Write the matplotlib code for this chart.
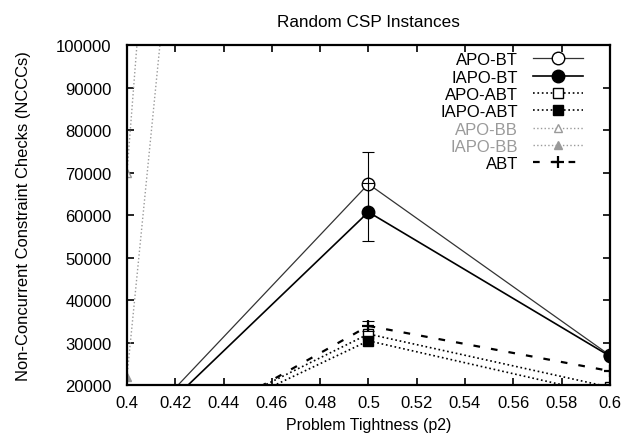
import matplotlib
matplotlib.use('Agg')
import matplotlib.pyplot as plt
import numpy as np

plt.rcParams['font.family'] = ['Liberation Sans', 'DejaVu Sans']

# data
p2 = [0.4, 0.5, 0.6]
apo_bt = [7300, 67300, 27000]
iapo_bt = [6200, 60700, 26800]
apo_abt = [4000, 32000, 19500]
iapo_abt = [3500, 30400, 17500]
apo_bb = [70000, 800000, 900000]
iapo_bb = [22000, 594000, 700000]
abt = [2000, 33900, 23300]

apo_bt_err = [0, 7500, 0]
iapo_bt_err = [0, 6800, 0]
abt_err = [0, 1200, 0]

xticks = [0.4, 0.42, 0.44, 0.46, 0.48, 0.5, 0.52, 0.54, 0.56, 0.58, 0.6]
xticklabels = ['0.4', '0.42', '0.44', '0.46', '0.48', '0.5', '0.52', '0.54', '0.56', '0.58', '0.6']
yticks = [20000, 30000, 40000, 50000, 60000, 70000, 80000, 90000, 100000]

fig = plt.figure(figsize=(6.21, 4.39), dpi=100)
ax = fig.add_axes([0.2045, 0.1207, 0.7775, 0.7745])

gray = '#9a9a9a'
ax.plot(p2, apo_bt, '-', color='#333333', lw=0.9, marker='o', ms=9,
        mfc='white', mec='black', mew=1.0, label='APO-BT')
ax.plot(p2, iapo_bt, '-', color='black', lw=1.2, marker='o', ms=9,
        mfc='black', mec='black', label='IAPO-BT')
ax.plot(p2, apo_abt, ':', color='black', lw=1.2, marker='s', ms=7.5,
        mfc='white', mec='black', mew=1.0, label='APO-ABT')
ax.plot(p2, iapo_abt, ':', color='black', lw=1.2, marker='s', ms=7.5,
        mfc='black', mec='black', label='IAPO-ABT')
ax.plot(p2, apo_bb, ':', color=gray, lw=1.0, marker='^', ms=6,
        mfc='white', mec=gray, label='APO-BB')
ax.plot(p2, iapo_bb, ':', color=gray, lw=1.0, marker='^', ms=6,
        mfc=gray, mec=gray, label='IAPO-BB')
ax.plot(p2, abt, '--', color='black', lw=1.6, dashes=(3, 5), marker='+', ms=9,
        mew=1.6, label='ABT')

# error bars only where measured
for vals, err in [(apo_bt, apo_bt_err), (iapo_bt, iapo_bt_err), (abt, abt_err)]:
    idx = [i for i, e in enumerate(err) if e > 0]
    ax.errorbar([p2[i] for i in idx], [vals[i] for i in idx],
                yerr=[err[i] for i in idx], fmt='none', ecolor='black',
                elinewidth=0.8, capsize=4, capthick=0.8, linestyle=':')

ax.set_xlim(0.4, 0.6)
ax.set_ylim(20000, 100000)
ax.set_xticks(xticks)
ax.set_xticklabels(xticklabels)
ax.set_yticks(yticks)
ax.tick_params(axis='both', direction='in', length=5, width=1.2, top=True, right=True,
               labelsize=12)
ax.tick_params(axis='y', pad=11)
ax.tick_params(axis='x', pad=7)
for s in ax.spines.values():
    s.set_linewidth(1.6)

ax.set_title('Random CSP Instances', fontsize=12.3, pad=14)
ax.set_xlabel('Problem Tightness (p2)', fontsize=11.5, labelpad=5)
ax.set_ylabel('Non-Concurrent Constraint Checks (NCCCs)', fontsize=11.9, labelpad=18)

leg = ax.legend(loc='upper right', markerfirst=False, frameon=False, fontsize=12,
                handlelength=3.0, labelspacing=0.14, handletextpad=0.9,
                borderaxespad=0.2, bbox_to_anchor=(0.965, 1.008))
for t in leg.get_texts():
    t.set_ha('right')
leg.get_texts()[4].set_color(gray)
leg.get_texts()[5].set_color(gray)

fig.savefig('out.png', dpi=100)
